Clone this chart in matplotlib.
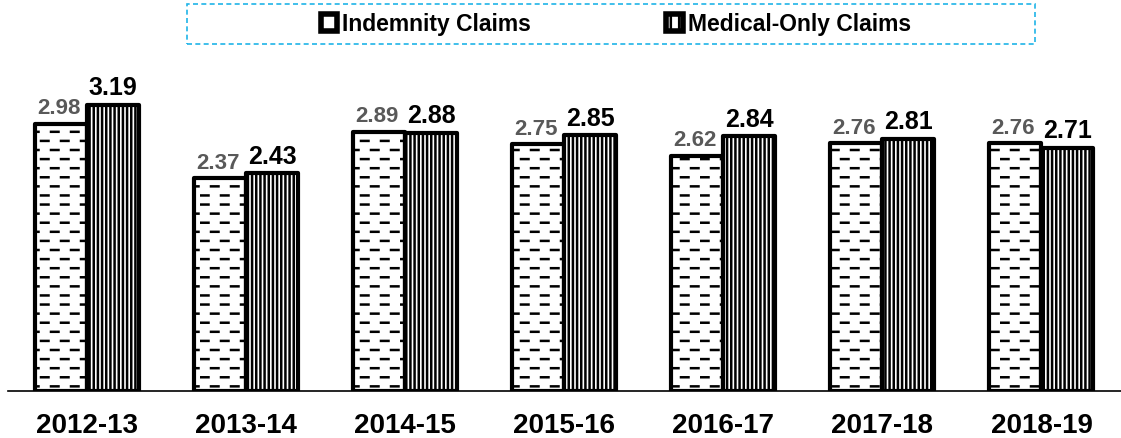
import matplotlib
matplotlib.use('Agg')
import matplotlib.pyplot as plt
import matplotlib.hatch as mhatch
from matplotlib.path import Path
from matplotlib.patches import Patch, Rectangle
import numpy as np

years = ['2012-13', '2013-14', '2014-15', '2015-16', '2016-17', '2017-18', '2018-19']
indemnity = [2.98, 2.37, 2.89, 2.75, 2.62, 2.76, 2.76]
medical_only = [3.19, 2.43, 2.88, 2.85, 2.84, 2.81, 2.71]


# staggered short dashes for the '-' hatch (like the excel "dashed horizontal" fill)
class DashedHatch(mhatch.HatchPatternBase):
    def __init__(self, hatch, density):
        self.num_rows = (hatch.count('-') + hatch.count('+')) * 11
        self.num_dashes = 5
        self.num_vertices = self.num_rows * self.num_dashes * 2

    def set_vertices_and_codes(self, vertices, codes):
        k = 0
        for r in range(self.num_rows):
            y = (r + 0.5) / self.num_rows
            off = 0.1 if r % 2 else 0.0
            for d in range(self.num_dashes):
                x0 = d * 0.2 + off + 0.01
                vertices[k] = (x0, y)
                vertices[k + 1] = (x0 + 0.075, y)
                codes[k] = Path.MOVETO
                codes[k + 1] = Path.LINETO
                k += 2


mhatch._hatch_types[0] = DashedHatch

plt.rcParams['font.family'] = ['Liberation Sans', 'DejaVu Sans']
plt.rcParams['hatch.linewidth'] = 1.8

fig = plt.figure(figsize=(11.21, 4.39), dpi=100)
ax = fig.add_axes([0.007, 0.107, 0.993, 0.756])

x = np.arange(len(years))
w = 0.327

b1 = ax.bar(x - w / 2, indemnity, w, facecolor='white', edgecolor='black',
            linewidth=3, hatch='-', joinstyle='round')
b2 = ax.bar(x + w / 2, medical_only, w, facecolor='white', edgecolor='black',
            linewidth=3, hatch='||||', joinstyle='round')

for xi, v in zip(x, indemnity):
    ax.annotate(f'{v:.2f}', (xi - w / 2, v), xytext=(-2, 4), textcoords='offset points',
                ha='center', va='bottom', fontsize=16, fontweight='bold', color='#595959')
for xi, v in zip(x, medical_only):
    ax.annotate(f'{v:.2f}', (xi + w / 2, v), xytext=(0, 4), textcoords='offset points',
                ha='center', va='bottom', fontsize=18, fontweight='bold', color='black')

ax.set_xlim(-0.5, 6.5)
ax.set_ylim(0, 3.70)
ax.set_xticks(x)
ax.set_xticklabels(years, fontsize=20, fontweight='bold')
ax.tick_params(axis='x', length=0, pad=15)
ax.set_yticks([])
for s in ['top', 'right', 'left']:
    ax.spines[s].set_visible(False)
ax.spines['bottom'].set_linewidth(1.2)

# legend box (dashed light blue frame)
fig.patches.append(Rectangle((187 / 1121, 1 - 45 / 439), 848 / 1121, 40 / 439,
                             transform=fig.transFigure, fill=False,
                             edgecolor='#1FB4E8', linestyle=(0, (3, 2)), linewidth=1.2))

handles = [Patch(facecolor='white', edgecolor='black', linewidth=4),
           Patch(facecolor='white', edgecolor='black', linewidth=4, hatch='||')]
fig.legend(handles, ['Indemnity Claims', 'Medical-Only Claims'], loc='center',
           bbox_to_anchor=(616 / 1121, 1 - 25 / 439), ncol=2, frameon=False,
           prop={'weight': 'bold', 'size': 16.5}, handlelength=0.7, handleheight=0.7,
           handletextpad=0.25, columnspacing=5.9)

fig.savefig('out.png', dpi=100)
